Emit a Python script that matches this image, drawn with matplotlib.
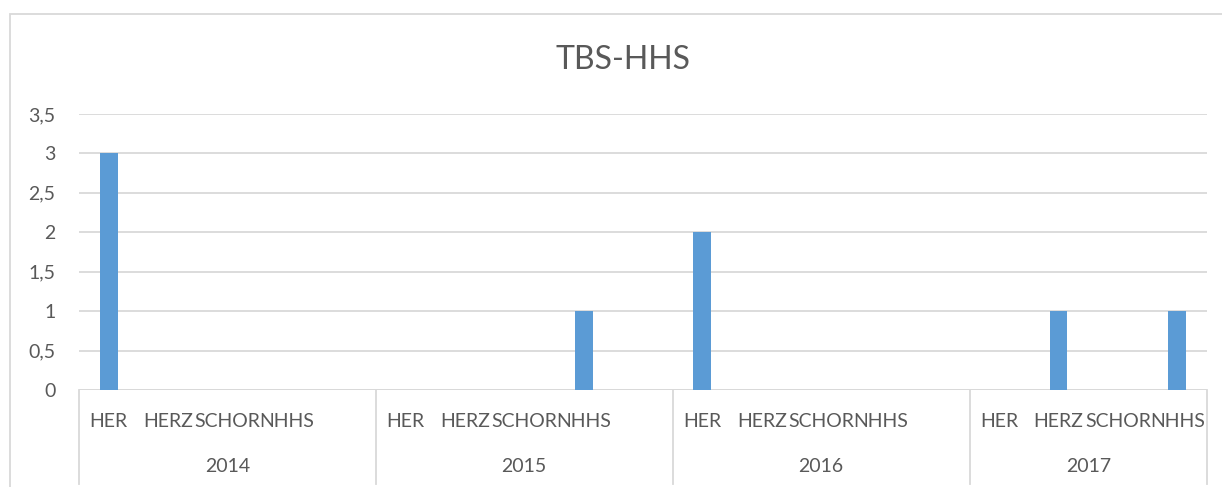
import matplotlib
matplotlib.use("Agg")
import matplotlib.pyplot as plt
from matplotlib.patches import Rectangle
from matplotlib.lines import Line2D
import matplotlib.transforms as mtransforms

# ---- data ----
title = "TBS-HHS"
years = ["2014", "2015", "2016", "2017"]
subcats_2014 = ["HER", "HERZ", "SCHOR", "NHHS", ""]
subcats_2015 = ["HER", "HERZ", "SCHOR", "NHHS", ""]
subcats_2016 = ["HER", "HERZ", "SCHOR", "NHHS", ""]
subcats_2017 = ["HER", "HERZ", "SCHOR", "NHHS"]
values_2014 = [3, 0, 0, 0, 0]
values_2015 = [0, 0, 0, 1, 0]
values_2016 = [2, 0, 0, 0, 0]
values_2017 = [0, 1, 0, 1]
yticks = [0, 0.5, 1, 1.5, 2, 2.5, 3, 3.5]
ytick_labels = ["0", "0,5", "1", "1,5", "2", "2,5", "3", "3,5"]

subcats = [subcats_2014, subcats_2015, subcats_2016, subcats_2017]
values = [values_2014, values_2015, values_2016, values_2017]

BAR = "#5B9BD5"
TXT = "#595959"
GRID = "#D9D9D9"
FONT = ["Lato", "DejaVu Sans"]

plt.rcParams["font.family"] = FONT

W, H = 1222, 487
fig = plt.figure(figsize=(W / 100, H / 100), dpi=100)
fig.patch.set_facecolor("white")

# chart area border (extends beyond the image right/bottom)
fig.add_artist(Rectangle((10 / W, -0.1), 1.2, (H - 14) / H + 0.1,
                         transform=fig.transFigure, fill=False,
                         edgecolor=GRID, linewidth=1.3))

ax = fig.add_axes([79 / W, (H - 390) / H, (1207 - 79) / W, (390 - 114) / H])

# positions
xs, heights, labels, group_bounds = [], [], [], [-0.5]
pos = 0
for sc, vals in zip(subcats, values):
    for s, v in zip(sc, vals):
        xs.append(pos)
        heights.append(v)
        labels.append(s)
        pos += 1
    group_bounds.append(pos - 0.5)

ax.bar(xs, heights, width=0.30, color=BAR, zorder=3)
ax.set_xlim(-0.5, pos - 0.5)
ax.set_ylim(0, 3.5)
ax.set_yticks(yticks)
ax.set_yticklabels(ytick_labels, color=TXT, fontsize=14)
ax.tick_params(axis="y", length=0, pad=17)
ax.set_xticks([])
for sp in ax.spines.values():
    sp.set_visible(False)
ax.grid(axis="y", color=GRID, linewidth=1.3, zorder=0)
ax.axhline(0, color=GRID, linewidth=1.3, zorder=2)

trans = mtransforms.blended_transform_factory(ax.transData, ax.transAxes)
for x, s in zip(xs, labels):
    if s:
        ax.text(x, -0.114, s, transform=trans, ha="center", va="center",
                color=TXT, fontsize=14, clip_on=False)
for i, y in enumerate(years):
    c = (group_bounds[i] + group_bounds[i + 1]) / 2
    ax.text(c, -0.278, y, transform=trans, ha="center", va="center",
            color=TXT, fontsize=14, clip_on=False)
for b in group_bounds:
    ax.add_line(Line2D([b, b], [0, -0.34], transform=trans, color=GRID,
                       linewidth=1.3, clip_on=False))

fig.text(623 / W, 1 - 60 / H, title, ha="center", va="center",
         color=TXT, fontsize=23)

fig.savefig("out.png", dpi=100)
